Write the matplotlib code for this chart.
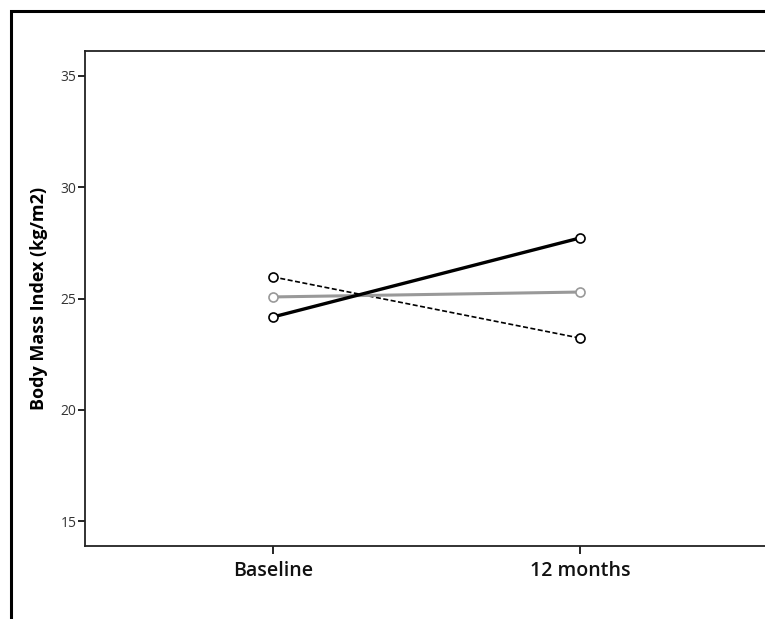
import matplotlib
matplotlib.use("Agg")
import matplotlib.pyplot as plt
from matplotlib.patches import Rectangle

categories = ["Baseline", "12 months"]
series_solid_black = [24.17, 27.72]
series_gray = [25.07, 25.29]
series_dashed = [25.97, 23.22]
y_ticks = [15, 20, 25, 30, 35]

plt.rcParams['font.family'] = ['Open Sans', 'DejaVu Sans']

fig = plt.figure(figsize=(7.65, 6.19), dpi=100)
W, H = 765, 619
ax = fig.add_axes([85 / W, 1 - 546 / H, (768 - 85) / W, (546 - 51) / H])

x = list(range(len(categories)))
ax.plot(x, series_dashed, color='black', lw=1.2, ls=(0, (3, 1.5)), marker='o',
        ms=6.5, mfc='white', mec='black', mew=1.2, zorder=3)
ax.plot(x, series_gray, color='#999999', lw=2.2, marker='o',
        ms=6.5, mfc='white', mec='#999999', mew=1.2, zorder=3)
ax.plot(x, series_solid_black, color='black', lw=2.4, marker='o',
        ms=6.5, mfc='white', mec='black', mew=1.2, zorder=4)

ax.set_xlim(-0.612, 1.612)
ax.set_ylim(13.88, 36.12)
ax.set_xticks(x)
ax.set_xticklabels(categories, fontsize=14, fontweight='semibold', color='#111111')
ax.set_yticks(y_ticks)
ax.set_yticklabels([str(v) for v in y_ticks], fontsize=10, color='#333333')
ax.tick_params(axis='y', direction='out', length=5, width=1.2, pad=1)
ax.tick_params(axis='x', direction='out', length=6, width=1.2, pad=5)
for s in ax.spines.values():
    s.set_linewidth(1.3)
    s.set_color('#222222')
ax.set_ylabel("Body Mass Index (kg/m2)", fontsize=13, fontweight='bold', labelpad=9)

border = Rectangle((11 / W, -0.1), 1.2, 1 - 11 / H + 0.1, transform=fig.transFigure,
                   fill=False, ec='black', lw=2.2, zorder=10)
fig.patches.append(border)

fig.savefig("out.png", dpi=100)
